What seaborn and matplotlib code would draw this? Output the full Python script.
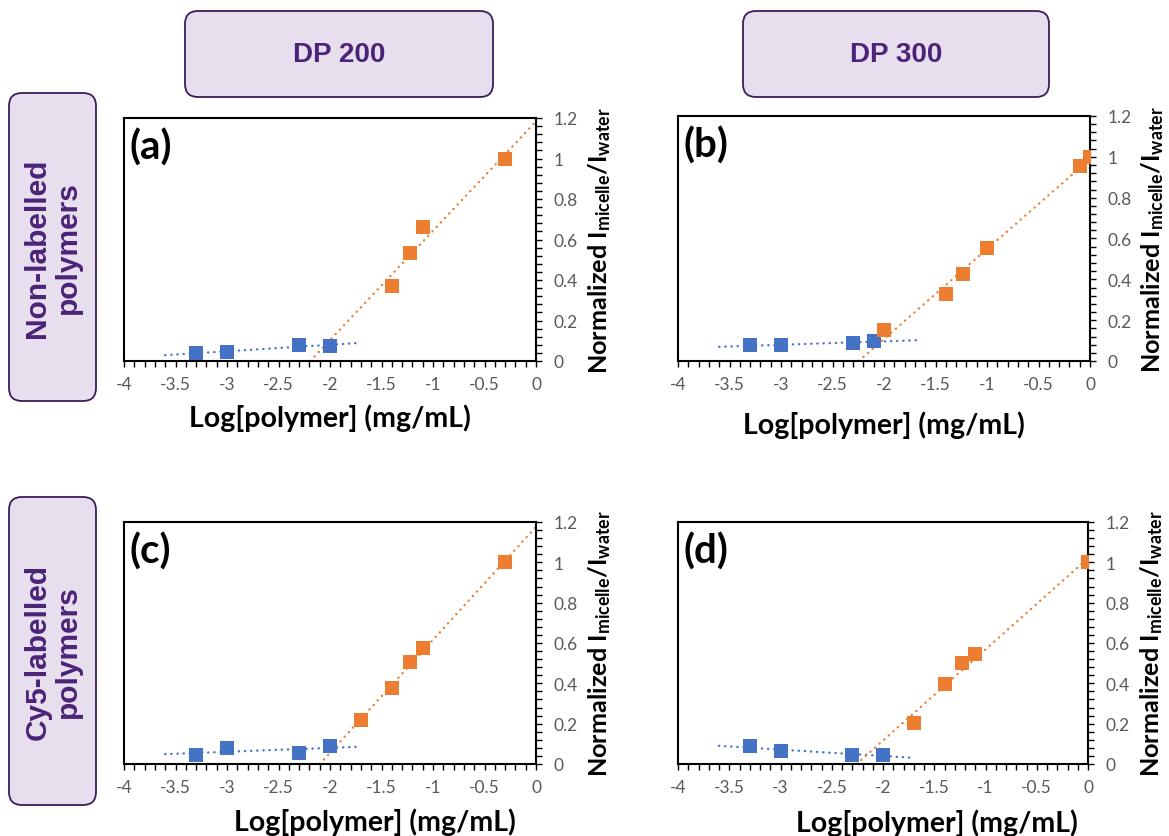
import numpy as np
import matplotlib
matplotlib.use("Agg")
import matplotlib.pyplot as plt
import seaborn as sns
from matplotlib.ticker import MultipleLocator, FuncFormatter
from matplotlib.patches import FancyBboxPatch

# ---------------- data ----------------
a_pre_x = [-3.3, -3.0, -2.3, -2.0]
a_pre_y = [0.038, 0.046, 0.079, 0.074]
a_post_x = [-1.4, -1.22, -1.1, -0.3]
a_post_y = [0.368, 0.531, 0.663, 1.0]

b_pre_x = [-3.3, -3.0, -2.3, -2.1]
b_pre_y = [0.077, 0.077, 0.088, 0.098]
b_post_x = [-2.0, -1.4, -1.23, -1.0, -0.1, 0.0]
b_post_y = [0.150, 0.327, 0.424, 0.555, 0.953, 1.0]

c_pre_x = [-3.3, -3.0, -2.3, -2.0]
c_pre_y = [0.046, 0.078, 0.055, 0.091]
c_post_x = [-1.7, -1.4, -1.22, -1.1, -0.3]
c_post_y = [0.218, 0.377, 0.505, 0.576, 1.0]

d_pre_x = [-3.3, -3.0, -2.3, -2.0]
d_pre_y = [0.088, 0.063, 0.045, 0.045]
d_post_x = [-1.7, -1.4, -1.23, -1.1, 0.0]
d_post_y = [0.202, 0.397, 0.502, 0.546, 1.0]

# trendline extents (x) for the pre-micelle fits
a_pre_span = [-3.6, -1.7]
b_pre_span = [-3.6, -1.65]
c_pre_span = [-3.6, -1.7]
d_pre_span = [-3.6, -1.7]

panel_tags = ["(a)", "(b)", "(c)", "(d)"]
col_titles = ["DP 200", "DP 300"]
row_titles = ["Non-labelled\npolymers", "Cy5-labelled\npolymers"]
x_label = "Log[polymer] (mg/mL)"
y_label = r"Normalized I$_{micelle}$/I$_{water}$"

# ---------------- style ----------------
BLUE = "#4472C4"
ORANGE = "#ED7D31"
TICKGREY = "#595959"
BOX_FILL = "#E7DFEE"
BOX_EDGE = "#3B1E5A"
BOX_TEXT = "#4B2378"

sns.set_theme(style="white")
plt.rcParams["font.family"] = ["Lato", "DejaVu Sans"]
plt.rcParams["mathtext.default"] = "regular"
plt.rcParams["axes.unicode_minus"] = False

W, H = 1169, 837
fig = plt.figure(figsize=(W / 100, H / 100), dpi=100)
fig.patch.set_facecolor("white")

# overlay in pixel coordinates for the rounded title boxes
ov = fig.add_axes([0, 0, 1, 1], zorder=-1)
ov.set_xlim(0, W)
ov.set_ylim(H, 0)
ov.axis("off")


def rbox(x0, y0, x1, y1, text, rot, size):
    p = FancyBboxPatch((x0, y0), x1 - x0, y1 - y0,
                       boxstyle="round,pad=0,rounding_size=13",
                       facecolor=BOX_FILL, edgecolor=BOX_EDGE, linewidth=1.3)
    ov.add_patch(p)
    ov.text((x0 + x1) / 2, (y0 + y1) / 2, text, rotation=rot, ha="center",
            va="center", color=BOX_TEXT, fontsize=size, fontweight="bold",
            family=["Liberation Sans", "DejaVu Sans"], linespacing=1.1)


rbox(185, 12, 493, 98, col_titles[0], 0, 20)
rbox(743, 12, 1049, 98, col_titles[1], 0, 20)
rbox(9, 94, 96, 402, row_titles[0], 90, 21.5)
rbox(9, 498, 96, 806, row_titles[1], 90, 21.5)

fmt = FuncFormatter(lambda v, _: f"{round(v, 6) + 0.0:g}")


def panel(rect, pre_x, pre_y, post_x, post_y, pre_span, tag, xlab_pos, ylab_x):
    ax = fig.add_axes(rect)
    ax.set_facecolor("white")
    # linear trendlines (least squares, as in the spreadsheet)
    kp = np.polyfit(pre_x, pre_y, 1)
    xs = np.array(pre_span)
    ax.plot(xs, np.polyval(kp, xs), color=BLUE, lw=1.7,
            linestyle=(0, (0.1, 2.5)), dash_capstyle="round", zorder=2)
    ko = np.polyfit(post_x, post_y, 1)
    xo = np.array([-ko[1] / ko[0], 0.0])
    ax.plot(xo, np.polyval(ko, xo), color=ORANGE, lw=1.7,
            linestyle=(0, (0.1, 2.5)), dash_capstyle="round", zorder=2)
    sns.scatterplot(x=pre_x, y=pre_y, marker="s", color=BLUE, s=88,
                    linewidth=0, ax=ax, zorder=3)
    sns.scatterplot(x=post_x, y=post_y, marker="s", color=ORANGE, s=88,
                    linewidth=0, ax=ax, zorder=3)

    ax.set_xlim(-4, 0)
    ax.set_ylim(0, 1.2)
    ax.xaxis.set_major_locator(MultipleLocator(0.5))
    ax.xaxis.set_minor_locator(MultipleLocator(0.1))
    ax.yaxis.set_major_locator(MultipleLocator(0.2))
    ax.yaxis.set_minor_locator(MultipleLocator(0.04))
    ax.xaxis.set_major_formatter(fmt)
    ax.yaxis.set_major_formatter(fmt)
    ax.yaxis.tick_right()
    ax.tick_params(axis="x", which="both", bottom=True, top=False,
                   direction="out", length=4.5, width=1.0, color="black")
    ax.tick_params(axis="y", which="both", right=True, left=False,
                   direction="out", length=4.5, width=1.0, color="black")
    ax.tick_params(axis="x", which="major", labelsize=12.5, labelcolor=TICKGREY, pad=6)
    ax.tick_params(axis="y", which="major", labelsize=12.5, labelcolor=TICKGREY, pad=8)
    for s in ax.spines.values():
        s.set_visible(True)
        s.set_color("black")
        s.set_linewidth(1.5)

    ax.set_xlabel(x_label, fontsize=20.5, fontweight="bold", color="black")
    ax.xaxis.set_label_coords(*xlab_pos)
    ax.xaxis.label.set_va("center")
    ax.yaxis.set_label_position("right")
    ax.set_ylabel(y_label, fontsize=18.2, fontweight="bold", color="black",
                  rotation=90)
    ax.yaxis.set_label_coords(ylab_x, 0.5)
    ax.yaxis.label.set_va("center")
    ax.yaxis.label.set_ha("center")

    ax.text(0.013, 0.96, tag, transform=ax.transAxes, ha="left", va="top",
            fontsize=29, fontweight="bold", color="black")
    return ax


panel([124 / W, 1 - 362 / H, 412 / W, 243 / H], a_pre_x, a_pre_y, a_post_x,
      a_post_y, a_pre_span, panel_tags[0], (0.5, -0.23), 1.155)
panel([678 / W, 1 - 362 / H, 412 / W, 245 / H], b_pre_x, b_pre_y, b_post_x,
      b_post_y, b_pre_span, panel_tags[1], (0.5, -0.259), 1.151)
panel([124 / W, 1 - 765 / H, 412 / W, 242 / H], c_pre_x, c_pre_y, c_post_x,
      c_post_y, c_pre_span, panel_tags[2], (0.609, -0.2355), 1.155)
panel([678 / W, 1 - 765 / H, 410 / W, 242 / H], d_pre_x, d_pre_y, d_post_x,
      d_post_y, d_pre_span, panel_tags[3], (0.632, -0.24), 1.155)

fig.savefig("out.png", dpi=100, facecolor="white")
